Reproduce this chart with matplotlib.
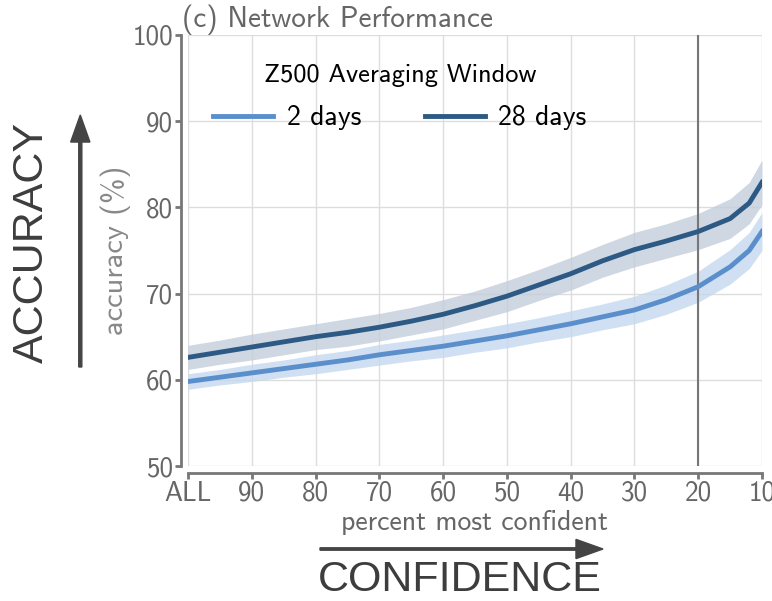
import numpy as np
import matplotlib
matplotlib.use('Agg')
import matplotlib.pyplot as plt

plt.rcParams['axes.unicode_minus'] = False

# percent most confident (100 = ALL samples)
percent = [100, 95, 90, 85, 80, 75, 70, 65, 60, 55, 50, 45, 40, 35, 30, 25, 20, 15, 12, 10]

# 2-day averaging window: mean accuracy and spread
acc_2 = [59.8, 60.3, 60.8, 61.3, 61.8, 62.3, 62.9, 63.4, 63.9, 64.5, 65.1, 65.8, 66.5, 67.3, 68.1, 69.3, 70.8, 73.1, 75.0, 77.2]
spr_2 = [0.9, 0.9, 1.0, 1.0, 1.1, 1.1, 1.2, 1.2, 1.3, 1.3, 1.4, 1.4, 1.5, 1.5, 1.6, 1.7, 1.8, 2.0, 2.1, 2.2]

# 28-day averaging window
acc_28 = [62.6, 63.2, 63.8, 64.4, 65.0, 65.5, 66.1, 66.8, 67.6, 68.6, 69.7, 71.0, 72.3, 73.8, 75.1, 76.1, 77.2, 78.7, 80.5, 82.9]
spr_28 = [1.4, 1.4, 1.5, 1.5, 1.5, 1.6, 1.6, 1.6, 1.7, 1.7, 1.8, 1.8, 1.9, 1.9, 2.0, 2.0, 2.1, 2.3, 2.4, 2.6]

xticks = [100, 90, 80, 70, 60, 50, 40, 30, 20, 10]
xticklabels = ['ALL', '90', '80', '70', '60', '50', '40', '30', '20', '10']
yticks = [50, 60, 70, 80, 90, 100]

c2 = '#5b8fcc'
c28 = '#2d5985'
gray = '#666666'
cm = 'cmss10'

fig = plt.figure(figsize=(7.72, 6.01), dpi=100)
ax = fig.add_axes([0.2435, 0.2246, 0.7435, 0.7172])

x = np.array(percent)
a2, s2 = np.array(acc_2), np.array(spr_2)
a28, s28 = np.array(acc_28), np.array(spr_28)

ax.fill_between(x, a2 - s2, a2 + s2, color='#c5d8ee', alpha=0.8, lw=0)
ax.fill_between(x, a28 - s28, a28 + s28, color='#c3cedb', alpha=0.8, lw=0)
ax.plot(x, a2, color=c2, lw=3.5, label='2 days')
ax.plot(x, a28, color=c28, lw=3.5, label='28 days')

ax.axvline(20, color='#777777', lw=1.5, zorder=1)

ax.set_xlim(100, 10)
ax.set_ylim(50, 100)
ax.set_xticks(xticks)
ax.set_xticklabels(xticklabels)
ax.set_yticks(yticks)
ax.grid(True, color='#dddddd', lw=1)
ax.set_axisbelow(True)

for s in ['top', 'right']:
    ax.spines[s].set_visible(False)
for s in ['left', 'bottom']:
    ax.spines[s].set_position(('outward', 5))
    ax.spines[s].set_color('#777777')
    ax.spines[s].set_linewidth(2)
ax.tick_params(colors='#777777', width=2, length=4, pad=1.5, labelcolor=gray, labelsize=19.5)
for lab in ax.get_xticklabels() + ax.get_yticklabels():
    lab.set_family(cm)

ax.set_xlabel('percent most confident', family=cm, fontsize=20, color=gray, labelpad=3)
ax.set_ylabel('accuracy (%)', family=cm, fontsize=22, color='#888888', labelpad=1)
ax.set_title('(c) Network Performance', family=cm, fontsize=21, color=gray,
             loc='left', pad=3, x=-0.01)

leg = ax.legend(loc='upper left', bbox_to_anchor=(0.0, 0.99), ncol=2, frameon=False,
                title='Z500 Averaging Window', handlelength=2.15, columnspacing=2.3,
                handletextpad=0.5, prop={'family': cm, 'size': 20})
leg.get_title().set_family(cm)
leg.get_title().set_fontsize(19)
leg._legend_box.sep = 13

# direction arrows
fig.patches.append(matplotlib.patches.FancyArrow(
    0.104, 1 - 367 / 601, 0, (367 - 115) / 601 - 0.045, width=0.004, head_width=0.025,
    head_length=0.045, color='#444444', transform=fig.transFigure, figure=fig))
fig.patches.append(matplotlib.patches.FancyArrow(
    320 / 772, 1 - 549 / 601, (603 - 320) / 772 - 0.035, 0, width=0.004, head_width=0.032,
    head_length=0.035, color='#444444', transform=fig.transFigure, figure=fig))

fig.text(0.041, 1 - 242 / 601, 'ACCURACY', rotation=90, ha='center', va='center',
         family='Liberation Sans', fontsize=31, color='#3d3d3d')
fig.text(460 / 772, 1 - 580 / 601, 'CONFIDENCE', ha='center', va='center',
         family='Liberation Sans', fontsize=31, color='#3d3d3d')

fig.savefig('out.png', dpi=100)
